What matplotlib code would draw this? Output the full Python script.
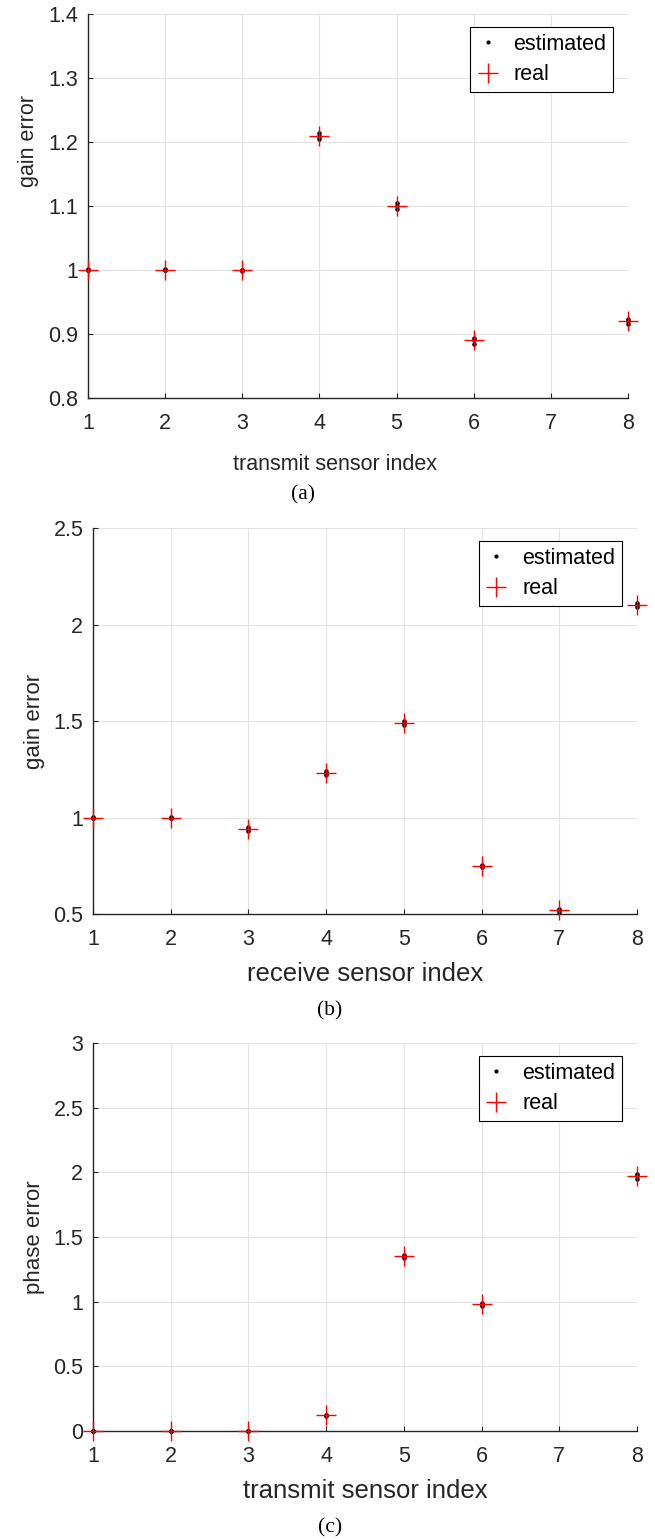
import numpy as np
import matplotlib
matplotlib.use("Agg")
import matplotlib.pyplot as plt

plt.rcParams['font.family'] = ['Liberation Sans', 'DejaVu Sans']

sensor_idx = [1, 2, 3, 4, 5, 6, 7, 8]

# real values (nan = outside the shown range / not drawn)
real_tx_gain = [1.00, 1.00, 1.00, 1.21, 1.10, 0.89, np.nan, 0.92]
real_rx_gain = [1.00, 1.00, 0.94, 1.23, 1.49, 0.75, 0.52, 2.10]
real_tx_phase = [0.00, 0.00, 0.00, 0.12, 1.35, 0.98, np.nan, 1.97]

# estimated values, a few trials each
est_tx_gain = [
    [1.000, 1.000, 1.000, 1.205, 1.096, 0.885, np.nan, 0.915],
    [1.000, 1.000, 0.999, 1.210, 1.100, 0.890, np.nan, 0.920],
    [1.001, 1.001, 1.000, 1.214, 1.104, 0.894, np.nan, 0.924],
]
est_rx_gain = [
    [0.995, 0.995, 0.930, 1.220, 1.480, 0.745, 0.512, 2.090],
    [1.000, 1.000, 0.940, 1.230, 1.490, 0.750, 0.520, 2.100],
    [1.005, 1.004, 0.950, 1.240, 1.500, 0.756, 0.528, 2.110],
]
est_tx_phase = [
    [0.000, 0.000, 0.000, 0.115, 1.340, 0.965, np.nan, 1.950],
    [0.000, 0.000, 0.000, 0.120, 1.350, 0.980, np.nan, 1.970],
    [0.000, 0.000, 0.000, 0.125, 1.360, 0.990, np.nan, 1.990],
]

panels = [
    dict(real=real_tx_gain, est=est_tx_gain, ylim=(0.8, 1.4),
         yticks=[0.8, 0.9, 1.0, 1.1, 1.2, 1.3, 1.4],
         ytl=['0.8', '0.9', '1', '1.1', '1.2', '1.3', '1.4'],
         xlabel='transmit sensor index', ylabel='gain error', tag='(a)',
         rect=[0.1344, 0.7414, 0.8244, 0.2495], xlab_fs=15.5, ylab_fs=15.5,
         xlab_pos=(0.457, -0.145), ylab_pos=(-0.09, 0.67), tag_x=0.463),
    dict(real=real_rx_gain, est=est_rx_gain, ylim=(0.5, 2.5),
         yticks=[0.5, 1.0, 1.5, 2.0, 2.5],
         ytl=['0.5', '1', '1.5', '2', '2.5'],
         xlabel='receive sensor index', ylabel='gain error', tag='(b)',
         rect=[0.142, 0.4061, 0.8305, 0.2508], xlab_fs=18.5, ylab_fs=16,
         xlab_pos=(0.5, -0.125), ylab_pos=(-0.088, 0.5), tag_x=0.504),
    dict(real=real_tx_phase, est=est_tx_phase, ylim=(0, 3),
         yticks=[0, 0.5, 1.0, 1.5, 2.0, 2.5, 3.0],
         ytl=['0', '0.5', '1', '1.5', '2', '2.5', '3'],
         xlabel='transmit sensor index', ylabel='phase error', tag='(c)',
         rect=[0.142, 0.0702, 0.8305, 0.2521], xlab_fs=18.5, ylab_fs=16,
         xlab_pos=(0.5, -0.124), ylab_pos=(-0.088, 0.5), tag_x=0.504),
]

fs = 15.5
dark = '#262626'

fig = plt.figure(figsize=(6.55, 15.39), dpi=100)

for p in panels:
    ax = fig.add_axes(p['rect'])
    for trial in p['est']:
        h_est, = ax.plot(sensor_idx, trial, '.', color='k', ms=4.5,
                         clip_on=False, zorder=3)
    h_real, = ax.plot(sensor_idx, p['real'], '+', color='#ff0000', ms=14,
                      mew=1.0, clip_on=False, zorder=4)
    ax.set_xlim(1, 8)
    ax.set_ylim(*p['ylim'])
    ax.set_xticks(sensor_idx)
    ax.set_yticks(p['yticks'])
    ax.set_yticklabels(p['ytl'])
    ax.grid(True, color='#e3e3e3', lw=0.8)
    ax.set_axisbelow(True)
    for s in ['top', 'right']:
        ax.spines[s].set_visible(False)
    for s in ['left', 'bottom']:
        ax.spines[s].set_color(dark)
        ax.spines[s].set_linewidth(1.0)
    ax.tick_params(direction='in', length=3.5, width=0.8, colors=dark,
                   labelsize=fs)
    ax.tick_params(axis='x', pad=11)
    ax.tick_params(axis='y', pad=7)
    ax.set_xlabel(p['xlabel'], fontsize=p['xlab_fs'], color=dark)
    ax.set_ylabel(p['ylabel'], fontsize=p['ylab_fs'], color=dark)
    ax.xaxis.set_label_coords(*p['xlab_pos'])
    ax.yaxis.set_label_coords(*p['ylab_pos'])
    leg = ax.legend([h_est, h_real], ['estimated', 'real'], loc='upper right',
                    bbox_to_anchor=(0.972, 0.966), borderaxespad=0,
                    fontsize=fs, frameon=True, fancybox=False, framealpha=1,
                    edgecolor='k', handlelength=1.0, handletextpad=0.7,
                    borderpad=0.3, labelspacing=0.45)
    leg.get_frame().set_linewidth(0.8)
    leg.legend_handles[0].set_markersize(4)
    pos = ax.get_position()
    fig.text(p['tag_x'], pos.y0 - 0.063, p['tag'],
             fontsize=fs, family=['Liberation Serif', 'DejaVu Serif'],
             ha='center', va='center', color='k')

fig.savefig('out.png', dpi=100)
